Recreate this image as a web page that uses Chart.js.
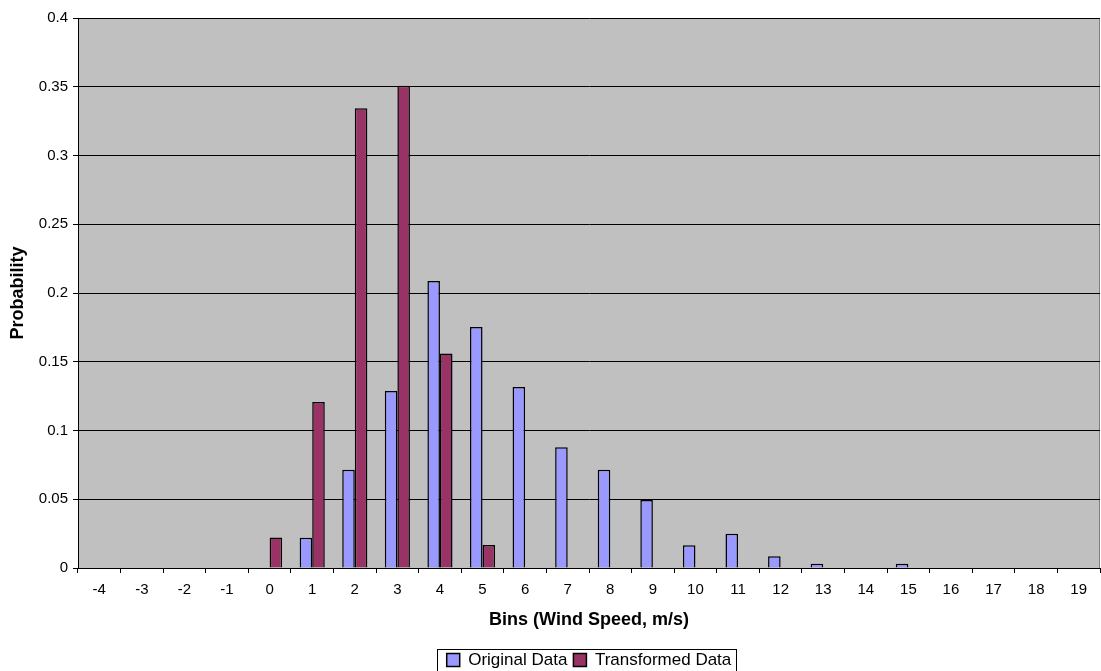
<!DOCTYPE html>
<html>
<head>
<meta charset="utf-8">
<script src="https://cdn.jsdelivr.net/npm/chart.js@4"></script>
<style>
  html, body { margin: 0; padding: 0; background: #fff; }
  #wrap { width: 1101px; height: 671px; }
</style>
</head>
<body>
<div id="wrap"><canvas id="chart" width="1101" height="671"></canvas></div>
<script>
// bins -4 .. 19 m/s
const bins = ['-4', '-3', '-2', '-1', '0', '1', '2', '3', '4', '5', '6', '7', '8', '9', '10', '11', '12', '13', '14', '15', '16', '17', '18', '19'];
const originalData = [null, null, null, null, null, 0.022, 0.0715, 0.1287, 0.2087, 0.1753, 0.1316, 0.0878, 0.0715, 0.0495, 0.0165, 0.025, 0.0085, 0.0031, null, 0.0031, null, null, null, null];
const transformedData = [null, null, null, null, 0.0222, 0.1207, 0.3343, 0.3508, 0.156, 0.0167, null, null, null, null, null, null, null, null, null, null, null, null, null, null];

const FONT = 'Liberation Sans, Arial, sans-serif';

// grey plot area, thin right edge, and a frame round the legend
const plotBg = {
  id: 'plotBg',
  beforeDraw(chart) {
    const { ctx, chartArea: a } = chart;
    ctx.save();
    ctx.fillStyle = '#C0C0C0';
    ctx.fillRect(a.left, a.top, a.right - a.left, a.bottom - a.top);
    ctx.strokeStyle = '#808080';
    ctx.lineWidth = 1;
    ctx.beginPath();
    ctx.moveTo(a.right - 0.5, a.top);
    ctx.lineTo(a.right - 0.5, a.bottom);
    ctx.stroke();
    ctx.restore();
  },
  afterDraw(chart) {
    const boxes = chart.legend.legendHitBoxes;
    if (!boxes || !boxes.length) return;
    const left = Math.min(...boxes.map(b => b.left)) - 10;
    const right = Math.max(...boxes.map(b => b.left + b.width)) + 4;
    const top = Math.min(...boxes.map(b => b.top)) - 3;
    const ctx = chart.ctx;
    ctx.save();
    ctx.strokeStyle = '#000';
    ctx.lineWidth = 1;
    ctx.strokeRect(Math.round(left) + 0.5, Math.round(top) + 0.5, Math.round(right - left), chart.height);
    ctx.restore();
  }
};

new Chart(document.getElementById('chart'), {
  type: 'bar',
  data: {
    labels: bins,
    datasets: [
      {
        label: 'Original Data',
        data: originalData,
        backgroundColor: '#9999FF',
        borderColor: '#000',
        borderWidth: 1.5,
      },
      {
        label: 'Transformed Data',
        data: transformedData,
        backgroundColor: '#993366',
        borderColor: '#000',
        borderWidth: 1.5,
      },
    ],
  },
  options: {
    responsive: false,
    animation: false,
    categoryPercentage: 0.59,
    barPercentage: 1,
    // legend hangs a little below the canvas edge
    layout: { padding: { left: 0, right: 1, top: 18, bottom: -7.5 } },
    plugins: {
      legend: {
        position: 'bottom',
        fullSize: false,
        labels: {
          color: '#000',
          font: { family: FONT, size: 17 },
          boxWidth: 13,
          boxHeight: 13,
          padding: 6,
        },
      },
      tooltip: { enabled: false },
    },
    scales: {
      x: {
        afterFit(scale) { scale.height = 77.5; },
        grid: { drawOnChartArea: false, color: '#000', tickLength: 5 },
        border: { color: '#000' },
        ticks: { color: '#000', font: { family: FONT, size: 15 }, maxRotation: 0, autoSkip: false, padding: 8 },
        title: {
          display: true,
          text: 'Bins (Wind Speed, m/s)',
          color: '#000',
          font: { family: FONT, size: 18, weight: 'bold' },
          padding: { top: 4, bottom: 15 },
        },
      },
      y: {
        min: 0,
        max: 0.4,
        afterFit(scale) { scale.width = 78; },
        grid: { color: '#000', tickLength: 5 },
        border: { color: '#000' },
        ticks: {
          stepSize: 0.05,
          color: '#000',
          font: { family: FONT, size: 15 },
          padding: 5,
          callback: v => String(+v.toFixed(2)),
        },
        title: {
          display: true,
          text: 'Probability',
          color: '#000',
          font: { family: FONT, size: 18, weight: 'bold' },
          padding: { top: 7, bottom: 0 },
        },
      },
    },
  },
  plugins: [plotBg],
});
</script>
</body>
</html>
